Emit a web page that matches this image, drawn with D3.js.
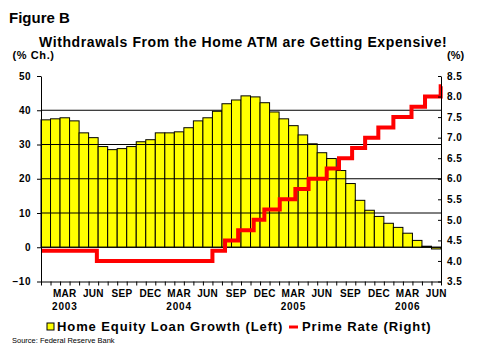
<!DOCTYPE html>
<html>
<head>
<meta charset="utf-8">
<script src="https://cdn.jsdelivr.net/npm/d3@7"></script>
<style>
  html, body { margin: 0; padding: 0; background: #fff; }
  svg { display: block; font-family: "Liberation Sans", Arial, sans-serif; }
</style>
</head>
<body>
<svg id="chart" width="480" height="360"></svg>
<script>
// ---- data ----
const months = [
  "2003-01","2003-02","2003-03","2003-04","2003-05","2003-06","2003-07","2003-08","2003-09","2003-10","2003-11","2003-12",
  "2004-01","2004-02","2004-03","2004-04","2004-05","2004-06","2004-07","2004-08","2004-09","2004-10","2004-11","2004-12",
  "2005-01","2005-02","2005-03","2005-04","2005-05","2005-06","2005-07","2005-08","2005-09","2005-10","2005-11","2005-12",
  "2006-01","2006-02","2006-03","2006-04","2006-05","2006-06"
];
const loanGrowth = [
  37.2, 37.5, 37.8, 36.9, 33.4, 32.0, 29.4, 28.5, 28.8, 29.4, 30.8, 31.4,
  33.4, 33.4, 33.7, 34.9, 36.9, 37.8, 39.7, 41.9, 43.0, 44.2, 43.9, 42.2,
  39.5, 37.5, 35.5, 32.8, 30.2, 27.6, 25.9, 22.4, 18.6, 13.7, 10.8, 9.0,
  7.0, 5.8, 4.1, 2.0, 0.3, -0.5
];
const primeDates = [
  "2003-01-01","2003-06-27","2004-07-01","2004-08-11","2004-09-22","2004-11-11","2004-12-15",
  "2005-02-03","2005-03-23","2005-05-04","2005-07-01","2005-08-10","2005-09-21","2005-11-02",
  "2005-12-14","2006-02-01","2006-03-29","2006-05-11","2006-06-30"
];
const primeRates = [
  4.25, 4.00, 4.25, 4.50, 4.75, 5.00, 5.25,
  5.50, 5.75, 6.00, 6.25, 6.50, 6.75, 7.00,
  7.25, 7.50, 7.75, 8.00, 8.25
];
const monthTickLabels = ["MAR","JUN","SEP","DEC"];
const yearLabels = ["2003","2004","2005","2006"];
const leftTicks = [-10, 0, 10, 20, 30, 40, 50];
const rightTicks = [3.5, 4.0, 4.5, 5.0, 5.5, 6.0, 6.5, 7.0, 7.5, 8.0, 8.5];
const gridValues = [0, 10, 20, 30, 40];

// ---- layout ----
const L = 41, R = 441, T = 76, B = 281.5;
const svg = d3.select("#chart");

const x = d3.scaleBand().domain(months).range([L, R]).padding(0);
const xIdx = d3.scaleLinear().domain([0, months.length]).range([L, R]);
const yL = d3.scaleLinear().domain([-10, 50]).range([B, T]);
const yR = d3.scaleLinear().domain([3.5, 8.5]).range([B, T]);

function dateIndex(s) {
  const [yy, mm, dd] = s.split("-").map(Number);
  const dim = new Date(yy, mm, 0).getDate();
  return (yy - 2003) * 12 + (mm - 1) + (dd - 1) / dim;
}

// gridline hidden behind bars (40)
svg.append("g").selectAll("line").data(gridValues.filter(v => v === 40)).join("line")
  .attr("x1", L).attr("x2", R).attr("y1", d => yL(d)).attr("y2", d => yL(d))
  .attr("stroke", "#000").attr("stroke-width", 1);

// bars
svg.append("g").selectAll("rect").data(loanGrowth).join("rect")
  .attr("x", (d, i) => x(months[i]))
  .attr("width", x.bandwidth())
  .attr("y", d => Math.min(yL(d), yL(0)))
  .attr("height", d => Math.abs(yL(d) - yL(0)))
  .attr("fill", "#ffff00")
  .attr("stroke", "#000")
  .attr("stroke-width", 1);

// gridlines over bars
svg.append("g").selectAll("line").data(gridValues.filter(v => v !== 40)).join("line")
  .attr("x1", L).attr("x2", R).attr("y1", d => yL(d)).attr("y2", d => yL(d))
  .attr("stroke", "#000").attr("stroke-width", 1);

// prime rate line
const pts = primeDates.map((d, i) => [dateIndex(d), primeRates[i]]);
pts.push([months.length, primeRates[primeRates.length - 1]]);
svg.append("path")
  .datum(pts)
  .attr("fill", "none")
  .attr("stroke", "#ff0000")
  .attr("stroke-width", 4)
  .attr("d", d3.line().x(d => xIdx(d[0])).y(d => yR(d[1])).curve(d3.curveStepAfter));

// left axis
const gL = svg.append("g").attr("transform", `translate(${L},0)`)
  .call(d3.axisLeft(yL).tickValues(leftTicks).tickSizeInner(4).tickSizeOuter(0).tickPadding(6).tickFormat(d3.format("d")));
// right axis (ticks pointing inward)
const gR = svg.append("g").attr("transform", `translate(${R},0)`)
  .call(d3.axisRight(yR).tickValues(rightTicks).tickSizeInner(-3).tickSizeOuter(0).tickPadding(6).tickFormat(d3.format(".1f")));
// bottom axis: month boundary ticks
const gB = svg.append("g").attr("transform", `translate(0,${B})`)
  .call(d3.axisBottom(xIdx).tickValues(d3.range(0, months.length + 1)).tickSizeInner(4).tickSizeOuter(0).tickFormat(""));

[gL, gR, gB].forEach(g => {
  g.select(".domain").attr("stroke", "#000").attr("stroke-width", 1);
  g.selectAll(".tick line").attr("stroke", "#000").attr("stroke-width", 1);
  g.selectAll("text").attr("fill", "#000").attr("font-size", 10).attr("font-weight", "bold")
    .attr("font-family", "'Liberation Sans', Arial, sans-serif").attr("letter-spacing", 0.5);
});

// month labels
const labelMonths = months.filter(m => ["03","06","09","12"].includes(m.slice(5)));
const mName = { "03": monthTickLabels[0], "06": monthTickLabels[1], "09": monthTickLabels[2], "12": monthTickLabels[3] };
svg.append("g").selectAll("text").data(labelMonths).join("text")
  .attr("x", d => x(d) + x.bandwidth() / 2)
  .attr("y", 296.5)
  .attr("text-anchor", "middle")
  .attr("font-size", 10).attr("font-weight", "bold").attr("letter-spacing", 0.3)
  .text(d => mName[d.slice(5)]);
svg.append("g").selectAll("text").data(yearLabels).join("text")
  .attr("x", d => x(d + "-03") + x.bandwidth() / 2)
  .attr("y", 310)
  .attr("text-anchor", "middle")
  .attr("font-size", 10).attr("font-weight", "bold").attr("letter-spacing", 0.8)
  .text(d => d);

// titles
svg.append("text").attr("x", 9).attr("y", 23).attr("font-size", 15).attr("font-weight", "bold").text("Figure B");
svg.append("text").attr("x", 39).attr("y", 46.5).attr("font-size", 14).attr("font-weight", "bold")
  .attr("letter-spacing", 0.6).text("Withdrawals From the Home ATM are Getting Expensive!");
svg.append("text").attr("x", 12.5).attr("y", 58.5).attr("font-size", 11).attr("font-weight", "bold")
  .attr("letter-spacing", 0.6).text("(% Ch.)");
svg.append("text").attr("x", 447).attr("y", 58.5).attr("font-size", 11).attr("font-weight", "bold").text("(%)");

// legend
svg.append("rect").attr("x", 47).attr("y", 323).attr("width", 7).attr("height", 7)
  .attr("fill", "#ffff00").attr("stroke", "#000").attr("stroke-width", 1);
svg.append("text").attr("x", 57).attr("y", 331).attr("font-size", 13).attr("font-weight", "bold")
  .attr("letter-spacing", 0.9).text("Home Equity Loan Growth (Left)");
svg.append("line").attr("x1", 289).attr("x2", 298).attr("y1", 327).attr("y2", 327)
  .attr("stroke", "#ff0000").attr("stroke-width", 3);
svg.append("text").attr("x", 302).attr("y", 331).attr("font-size", 13).attr("font-weight", "bold")
  .attr("letter-spacing", 0.9).text("Prime Rate (Right)");
svg.append("text").attr("x", 12).attr("y", 343).attr("font-size", 7.5).text("Source: Federal Reserve Bank");
</script>
</body>
</html>
